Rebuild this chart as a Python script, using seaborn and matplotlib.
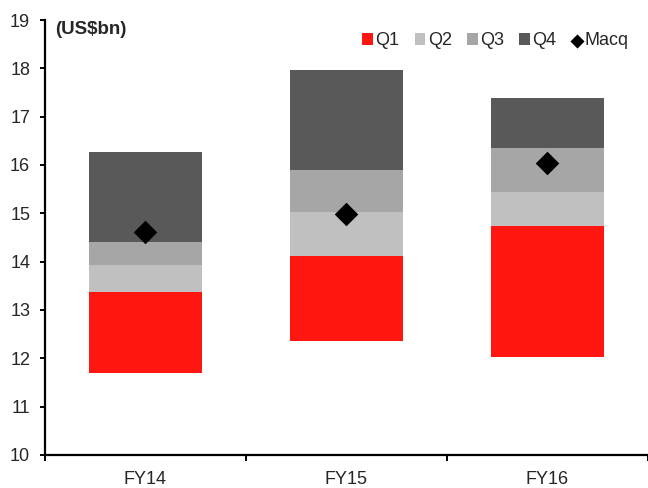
import pandas as pd
import seaborn as sns
import matplotlib.pyplot as plt
from matplotlib.ticker import FixedLocator

# values (US$bn)
years = ['FY14', 'FY15', 'FY16']
base = [11.70, 12.35, 12.03]   # where the Q1 block starts
q1 = [1.68, 1.77, 2.71]
q2 = [0.54, 0.91, 0.70]
q3 = [0.49, 0.87, 0.91]
q4 = [1.85, 2.06, 1.03]
macq = [14.62, 14.99, 16.05]

quarters = ['Q1', 'Q2', 'Q3', 'Q4']
colors = ['#ff1610', '#c0c0c0', '#a6a6a6', '#595959']

df = pd.DataFrame({'year': years, 'base': base, 'Q1': q1, 'Q2': q2,
                   'Q3': q3, 'Q4': q4, 'Macq': macq})

sns.set_style('white')
plt.rcParams['font.family'] = ['Liberation Sans', 'DejaVu Sans']
plt.rcParams['font.size'] = 13

fig = plt.figure(figsize=(6.48, 4.88), dpi=100)
ax = fig.add_axes([0.069, 0.068, 0.931, 0.891])

# floating stacked bars: each quarter starts where the previous one ended
bottom = df['base'].copy()
for q, c in zip(quarters, colors):
    sns.barplot(data=df, x='year', y=q, bottom=bottom.tolist(), color=c,
                saturation=1, width=0.56, linewidth=0, label=q, ax=ax)
    bottom = bottom + df[q]

sns.stripplot(data=df, x='year', y='Macq', marker='D', size=12, color='black',
              jitter=False, label='Macq', ax=ax)

ax.set_ylim(10, 19)
ax.set_xlim(-0.5, 2.5)
ax.set_yticks(range(10, 20))
ax.set_xlabel('')
ax.set_ylabel('')

for side in ['top', 'right']:
    ax.spines[side].set_visible(False)
for side in ['left', 'bottom']:
    ax.spines[side].set_color('black')
    ax.spines[side].set_linewidth(1.6)

ax.tick_params(axis='y', which='major', direction='out', length=3.5, width=1.4,
               color='black', pad=7, labelsize=13, left=True)
ax.tick_params(axis='x', which='major', length=0, pad=12, labelsize=13)
ax.xaxis.set_minor_locator(FixedLocator([-0.5, 0.5, 1.5, 2.5]))
ax.tick_params(axis='x', which='minor', direction='out', length=4, width=1.4,
               color='black', bottom=True)

ax.text(0.017, 0.979, '(US$bn)', transform=ax.transAxes, fontsize=13.5,
        fontweight='bold', va='center', ha='left')

handles, labels = ax.get_legend_handles_labels()
keep = {}
for h, l in zip(handles, labels):
    if l in quarters + ['Macq'] and l not in keep:
        keep[l] = h
order = quarters + ['Macq']
ax.legend([keep[l] for l in order], order, ncol=5, frameon=False,
          loc='center right', bbox_to_anchor=(0.968, 0.952),
          borderaxespad=0, borderpad=0, handlelength=0.6, handleheight=0.6,
          handletextpad=0.12, columnspacing=0.85, markerscale=0.6,
          fontsize=13)

plt.savefig('out.png', dpi=100)
